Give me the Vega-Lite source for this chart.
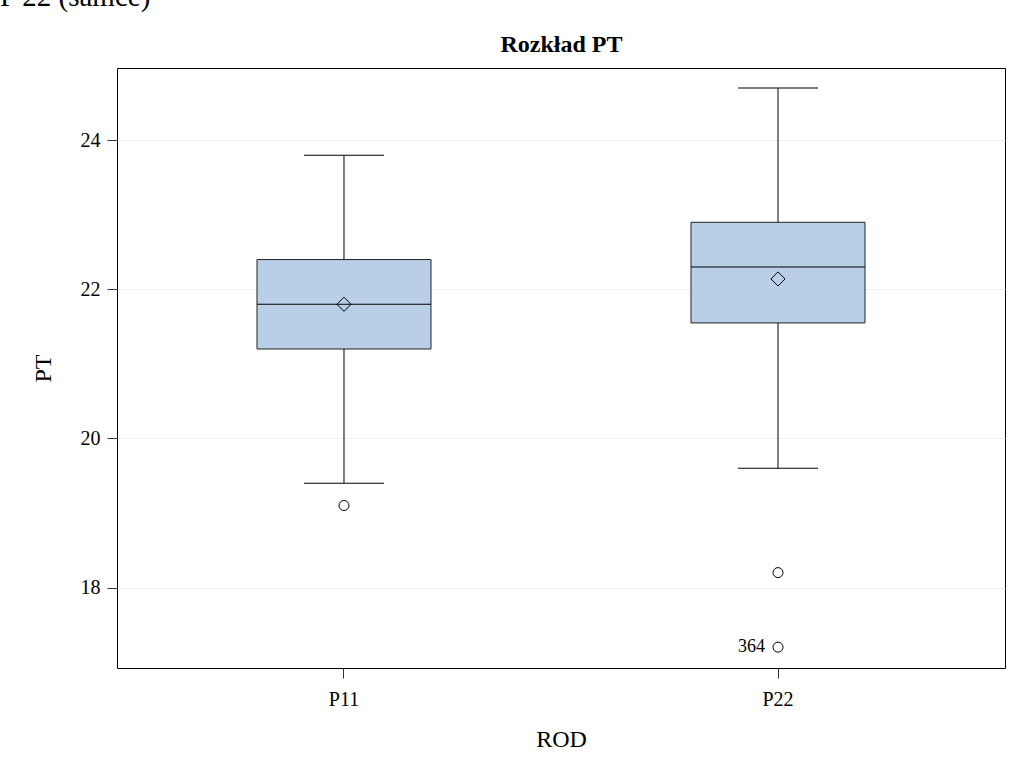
{
  "$schema": "https://vega.github.io/schema/vega-lite/v6.json",
  "autosize": {"type": "none"},
  "padding": {"left": 117, "top": 68, "right": 4, "bottom": 94},
  "width": 888,
  "height": 600,
  "background": "#ffffff",
  "title": {
    "text": "P 22 (samce)",
    "anchor": "start",
    "frame": "group",
    "dx": -117,
    "dy": 13,
    "offset": 10,
    "baseline": "alphabetic",
    "font": "Liberation Serif",
    "fontSize": 29,
    "fontWeight": "normal",
    "color": "#000000"
  },
  "datasets": {
    "stats": [
      {"ROD": "P11", "lo": 19.4, "q1": 21.2, "median": 21.8, "q3": 22.4, "hi": 23.8, "mean": 21.8},
      {"ROD": "P22", "lo": 19.6, "q1": 21.55, "median": 22.3, "q3": 22.9, "hi": 24.7, "mean": 22.14}
    ],
    "outliers": [
      {"ROD": "P11", "PT": 19.1, "label": ""},
      {"ROD": "P22", "PT": 18.2, "label": ""},
      {"ROD": "P22", "PT": 17.2, "label": "364"}
    ]
  },
  "resolve": {"axis": {"x": "independent"}},
  "layer": [
    {
      "data": {"name": "stats"},
      "mark": {"type": "rule", "color": "#000000", "strokeWidth": 1},
      "encoding": {
        "x": {"field": "ROD", "type": "nominal", "scale": {"type": "band", "paddingInner": 0, "paddingOuter": 0.023}, "axis": {"orient": "bottom", "title": "ROD"}},
        "y": {"field": "lo", "type": "quantitative", "scale": {"domain": [16.92, 24.97], "nice": false, "zero": false}, "axis": {"title": "PT", "values": [18, 20, 22, 24]}},
        "y2": {"field": "hi"}
      }
    },
    {
      "data": {"name": "stats"},
      "mark": {"type": "bar", "size": 174, "fill": "#B9CFE8", "stroke": "#222222", "strokeWidth": 1},
      "encoding": {
        "x": {"field": "ROD", "type": "nominal", "scale": {"type": "band", "paddingInner": 0, "paddingOuter": 0.023}, "axis": null},
        "y": {"field": "q1", "type": "quantitative", "axis": {"title": "PT", "values": [18, 20, 22, 24]}},
        "y2": {"field": "q3"}
      }
    },
    {
      "data": {"name": "stats"},
      "mark": {"type": "tick", "size": 174, "thickness": 1, "color": "#000000", "opacity": 1},
      "encoding": {
        "x": {"field": "ROD", "type": "nominal", "scale": {"type": "band", "paddingInner": 0, "paddingOuter": 0.023}, "axis": null},
        "y": {"field": "median", "type": "quantitative", "axis": {"title": "PT", "values": [18, 20, 22, 24]}}
      }
    },
    {
      "data": {"name": "stats"},
      "mark": {"type": "tick", "size": 80, "thickness": 1, "color": "#000000", "opacity": 1},
      "encoding": {
        "x": {"field": "ROD", "type": "nominal", "scale": {"type": "band", "paddingInner": 0, "paddingOuter": 0.023}, "axis": null},
        "y": {"field": "lo", "type": "quantitative", "axis": {"title": "PT", "values": [18, 20, 22, 24]}}
      }
    },
    {
      "data": {"name": "stats"},
      "mark": {"type": "tick", "size": 80, "thickness": 1, "color": "#000000", "opacity": 1},
      "encoding": {
        "x": {"field": "ROD", "type": "nominal", "scale": {"type": "band", "paddingInner": 0, "paddingOuter": 0.023}, "axis": null},
        "y": {"field": "hi", "type": "quantitative", "axis": {"title": "PT", "values": [18, 20, 22, 24]}}
      }
    },
    {
      "data": {"name": "stats"},
      "mark": {"type": "point", "shape": "diamond", "size": 200, "filled": false, "stroke": "#000000", "strokeWidth": 1, "opacity": 1},
      "encoding": {
        "x": {"field": "ROD", "type": "nominal", "scale": {"type": "band", "paddingInner": 0, "paddingOuter": 0.023}, "axis": null},
        "y": {"field": "mean", "type": "quantitative", "axis": {"title": "PT", "values": [18, 20, 22, 24]}}
      }
    },
    {
      "data": {"name": "outliers"},
      "mark": {"type": "point", "shape": "circle", "size": 100, "filled": false, "stroke": "#000000", "strokeWidth": 1, "opacity": 1},
      "encoding": {
        "x": {"field": "ROD", "type": "nominal", "scale": {"type": "band", "paddingInner": 0, "paddingOuter": 0.023}, "axis": null},
        "y": {"field": "PT", "type": "quantitative", "axis": {"title": "PT", "values": [18, 20, 22, 24]}}
      }
    },
    {
      "data": {"name": "outliers"},
      "mark": {"type": "text", "align": "right", "baseline": "middle", "dx": -13, "font": "Liberation Serif", "fontSize": 18, "color": "#000000"},
      "encoding": {
        "x": {"field": "ROD", "type": "nominal", "scale": {"type": "band", "paddingInner": 0, "paddingOuter": 0.023}, "axis": {"orient": "top", "title": "Rozkład PT"}},
        "y": {"field": "PT", "type": "quantitative", "axis": {"title": "PT", "values": [18, 20, 22, 24]}},
        "text": {"field": "label"}
      }
    }
  ],
  "config": {
    "view": {"stroke": "#000000", "strokeWidth": 1},
    "axis": {
      "labelFont": "Liberation Serif",
      "titleFont": "Liberation Serif",
      "labelFontSize": 20,
      "titleFontSize": 24,
      "labelColor": "#000000",
      "titleColor": "#000000",
      "titleFontWeight": "normal",
      "tickColor": "#333333",
      "tickSize": 10,
      "domain": false,
      "grid": false
    },
    "axisLeft": {"grid": true, "gridColor": "#eeeeee", "labelPadding": 7, "titlePadding": 25},
    "axisBottom": {"labelPadding": 11, "titlePadding": 18, "labelAngle": 0},
    "axisTop": {"labels": false, "ticks": false, "domain": false, "grid": false, "titleFontWeight": "bold", "titlePadding": 12}
  }
}
